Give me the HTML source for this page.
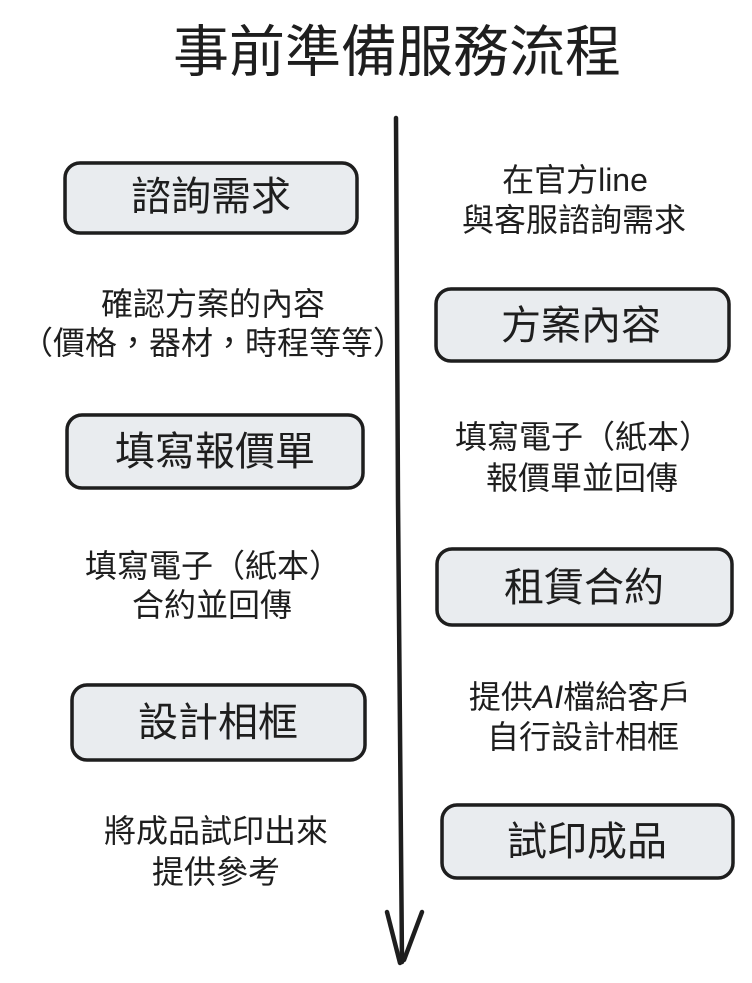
<!DOCTYPE html>
<html>
<head>
<meta charset="utf-8">
<style>
  html,body{margin:0;padding:0;background:#ffffff;}
  svg{display:block;}
  text{font-family:"Liberation Sans","Noto Sans CJK TC",sans-serif;fill:#1e1e1e;}
</style>
</head>
<body>
<svg width="752" height="983" viewBox="0 0 752 983" xmlns="http://www.w3.org/2000/svg">
  <rect x="0" y="0" width="752" height="983" fill="#ffffff"/>

  <!-- Title -->
  <text x="397" y="52" font-size="56" text-anchor="middle" dominant-baseline="central">事前準備服務流程</text>

  <!-- Main arrow -->
  <path d="M396 118 L398 500 L402 962" fill="none" stroke="#1e1e1e" stroke-width="4.5" stroke-linecap="round"/>
  <path d="M397 122 L399 520 L401 950" fill="none" stroke="#1e1e1e" stroke-width="1.5" stroke-linecap="round" opacity="0.7"/>
  <path d="M387 912 L400 963" fill="none" stroke="#1e1e1e" stroke-width="4.5" stroke-linecap="round"/>
  <path d="M422 912 L404 960" fill="none" stroke="#1e1e1e" stroke-width="4.5" stroke-linecap="round"/>

  <!-- Boxes -->
  <g fill="#e9ecef" stroke="#1e1e1e" stroke-width="3.5">
    <rect x="65" y="163" width="292" height="70" rx="15"/>
    <rect x="436" y="289" width="293" height="72" rx="15"/>
    <rect x="67" y="415" width="296" height="73" rx="15"/>
    <rect x="437" y="549" width="295" height="76" rx="15"/>
    <rect x="72" y="685" width="293" height="75" rx="15"/>
    <rect x="442" y="805" width="291" height="73" rx="15"/>
  </g>
  <g fill="none" stroke="#1e1e1e" stroke-width="1.2" opacity="0.6">
    <rect x="66" y="162" width="291" height="71" rx="14"/>
    <rect x="437" y="288" width="292" height="73" rx="14"/>
    <rect x="68" y="414" width="295" height="74" rx="14"/>
    <rect x="438" y="548" width="294" height="77" rx="14"/>
    <rect x="73" y="684" width="292" height="76" rx="14"/>
    <rect x="443" y="804" width="290" height="74" rx="14"/>
  </g>

  <!-- Box labels -->
  <g font-size="40" text-anchor="middle" dominant-baseline="central">
    <text x="211" y="197">諮詢需求</text>
    <text x="581" y="326">方案內容</text>
    <text x="215" y="452">填寫報價單</text>
    <text x="584" y="588">租賃合約</text>
    <text x="218" y="723">設計相框</text>
    <text x="587" y="842">試印成品</text>
  </g>

  <!-- Descriptions -->
  <g font-size="32" text-anchor="middle" dominant-baseline="central">
    <text x="575" y="180">在官方line</text>
    <text x="574" y="220">與客服諮詢需求</text>

    <text x="213" y="304">確認方案的內容</text>
    <text x="213" y="343">（價格，器材，時程等等）</text>

    <text x="583" y="437">填寫電子（紙本）</text>
    <text x="582" y="478">報價單並回傳</text>

    <text x="213" y="566">填寫電子（紙本）</text>
    <text x="212" y="605">合約並回傳</text>

    <text x="580" y="697">提供<tspan font-style="italic">AI</tspan>檔給客戶</text>
    <text x="583" y="737">自行設計相框</text>

    <text x="216" y="831">將成品試印出來</text>
    <text x="216" y="872">提供參考</text>
  </g>
</svg>
</body>
</html>
